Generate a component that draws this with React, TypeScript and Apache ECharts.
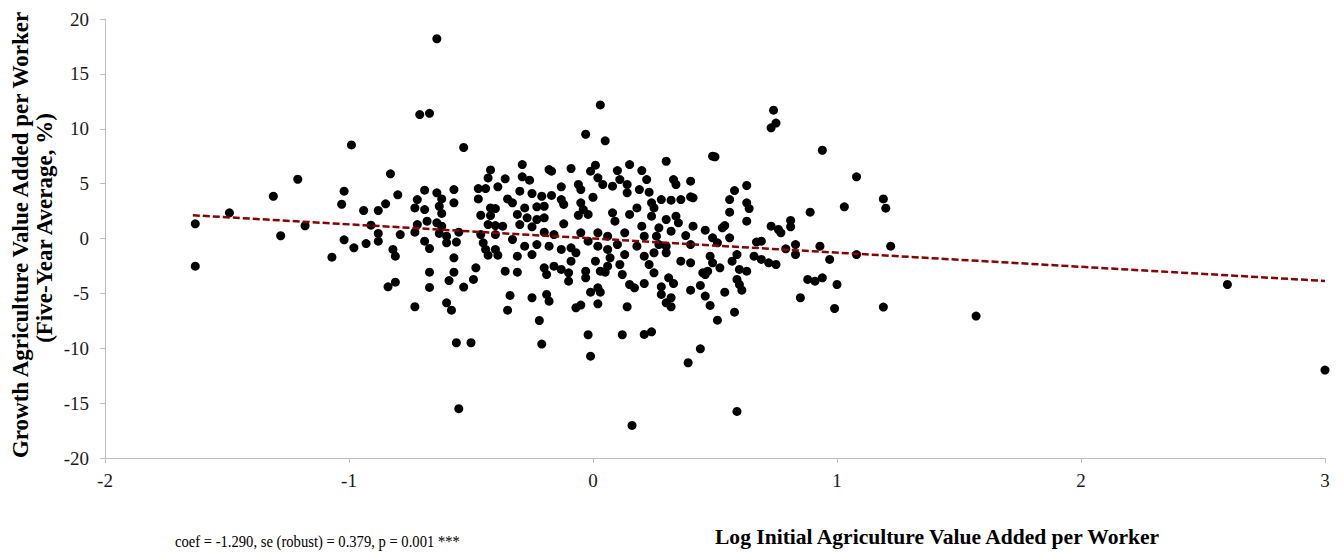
import { useEffect, useRef } from "react";
import * as echarts from "echarts";

// Log initial agriculture value added per worker (x) and five-year average growth (y)
const logInitialVA: number[] = [
  -1.63, -1.63, -1.49, -1.31, -1.28, -1.21, -1.18, -0.99, -1.02, -1.03, -1.02, -0.98, -1.07,
  -0.64,
  -0.71, -0.67, -0.53, -0.83, -0.42, -0.43, -0.8, -0.85, -0.88, -0.94, -0.69, -0.72, -0.73, -0.69,
  -0.64, -0.62, -0.63, -0.62, -0.57, -0.57, -0.68, -0.72, -0.64, -0.62, -0.91, -0.88, -0.88, -0.93,
  -0.79, -0.73, -0.63, -0.6, -0.6, -0.55, -0.56, -0.69, -0.67, -0.82, -0.81, -0.57, -0.67, -0.57,
  -0.49, -0.48, -0.47, -0.44, -0.47, -0.39, -0.46, -0.42, -0.4, -0.42, -0.43, -0.4, -0.46, -0.45,
  -0.44, -0.43, -0.4, -0.39, -0.4,
  -0.81, -0.84, -0.67, -0.59, -0.53, -0.73, -0.6, -0.58, -0.56, -0.5, -0.55,
  0.03, -0.03, 0.05, -0.29, -0.18, -0.17, -0.09, 0.01, -0.01, 0.15, 0.1, -0.36, -0.29, -0.26,
  -0.13, -0.06, -0.05, 0.02, 0.04, 0.08, 0.11, 0.14, 0.14, 0.19, -0.3, -0.25, -0.35, -0.33,
  -0.21, -0.17, -0.13, -0.12, -0.05, -0.04, 0.0, -0.02, -0.06, -0.28, -0.23, -0.2, -0.31, -0.27,
  -0.2, -0.23, -0.37, -0.3, -0.25, -0.12, 0.08, 0.09, 0.15, 0.18, 0.13, 0.06, 0.02, -0.05,
  -0.2, -0.16, -0.33, -0.28, -0.23, -0.18, -0.13, -0.09, -0.07, -0.02, 0.02, 0.06, 0.1, 0.13,
  0.18, -0.31, -0.25, -0.09, 0.01, 0.07, -0.2, -0.16, -0.13, -0.1, -0.36, -0.31, -0.03, 0.03,
  0.06, 0.11, 0.12,
  -0.19, -0.1, -0.03, 0.05, 0.15, 0.17, -0.34, -0.25, -0.19, -0.18, -0.35, -0.22, -0.07, -0.05,
  -0.01, 0.02, 0.03, 0.02, 0.14, -0.02, 0.12, -0.21, -0.01, 0.16,
  0.74, 0.73, 0.75, 0.3, 0.49, 0.5, 0.2, 0.22, 0.33, 0.34, 0.4, 0.23, 0.58, 0.63, 0.56, 0.63,
  0.64, 0.56, 0.63, 0.24, 0.28, 0.32, 0.36, 0.4, 0.41, 0.25, 0.24, 0.3, 0.34, 0.35, 0.2, 0.27,
  0.32, 0.41, 0.46, 0.53, 0.54, 0.73, 0.76, 0.21, 0.26, 0.38, 0.49, 0.56, 0.51, 0.67, 0.69, 0.27,
  0.3, 0.4, 0.21, 0.25, 0.3, 0.36, 0.4, 0.48, 0.49, 0.47, 0.57, 0.59, 0.52, 0.6, 0.63, 0.66,
  0.69, 0.72, 0.75, 0.23, 0.25, 0.45, 0.31,
  0.21, 0.28, 0.28, 0.33, 0.3, 0.32, 0.32, 0.4, 0.44, 0.46, 0.46, 0.48, 0.51, 0.54, 0.58, 0.59,
  0.6, 0.61, 0.21, 0.24, 0.44, 0.39, 0.59,
  0.94, 1.08, 1.19, 1.2, 1.03, 0.89, 0.81, 0.81, 0.77, 0.79, 0.83, 0.83, 0.93, 0.97, 1.08, 1.22,
  0.88, 0.91, 0.94, 1.0, 0.85, 0.99, 1.19,
  1.57, 2.6, 3.0,
];

const growthVA: number[] = [
  1.34, -2.52, 2.34, 3.85, 0.25, 5.4, 1.16, 8.53, 4.31, 3.12, -0.12, -0.85, -1.7,
  18.2,
  11.29, 11.41, 8.29, 5.89, 6.25, 5.52, 3.98, 3.16, 2.55, 2.55, 4.4, 3.55, 2.79, 2.64,
  4.16, 3.61, 2.94, 2.28, 4.46, 3.25, 1.58, 1.27, 1.43, 1.12, 1.21, 0.46, -0.24, -0.46,
  0.36, 0.58, 0.46, 0.21, -0.39, 0.58, -0.33, -0.24, -0.91, -1.0, -1.61, -1.76, -3.07, -3.07,
  -3.73, -2.67, 4.55, 4.55, 3.61, 4.71, 2.12, 2.79, 2.73, 2.09, 1.27, 1.18, 0.36, -0.39,
  -1.0, -1.52, -1.0, -1.52, 0.36,
  -3.98, -4.4, -4.46, -3.83, -4.43, -6.22, -5.86, -6.53, -9.5, -9.5, -15.51,
  12.17, 9.5, 8.9, 6.74, 6.28, 6.13, 6.38, 6.68, 6.13, 6.74, 6.19, 5.44, 5.62, 5.31,
  4.71, 4.92, 4.46, 5.53, 4.92, 4.77, 5.37, 4.92, 4.16, 4.46, 4.31, 4.1, 3.61, 3.25,
  3.85, 3.92, 3.55, 3.1, 3.25, 2.64, 3.76, 2.19, 2.12, 2.79, 2.89, 2.94, 2.19, 1.88,
  1.88, 1.73, 1.12, 1.27, 1.06, 1.34, 2.34, 1.58, 2.19, 2.79, 0.52, 0.21, 0.52, 0.52,
  0.58, 0.36, -0.09, -0.7, -0.55, -0.7, -1.0, -0.85, -1.3, -0.24, -0.7, -1.0, -0.55, -1.46,
  -0.7, -1.61, -1.46, -2.07, -2.07, -1.76, -2.67, -2.52, -2.82, -3.13, -2.98, -3.07, -2.98, -2.98,
  -2.52, -2.37, -3.28,
  -3.28, -3.89, -3.58, -3.07, -4.19, -4.49, -5.19, -5.4, -5.1, -5.71, -6.53, -7.47, -6.31, -6.07,
  -4.89, -4.49, -4.89, -5.95, -6.22, -8.77, -8.77, -9.62, -10.72, -17.03,
  11.69, 10.08, 10.52, 7.04, 7.5, 7.44, 6.19, 5.37, 5.37, 4.92, 5.22, 4.22, 4.37, 4.83, 3.55, 3.25,
  2.73, 2.4, 1.58, 3.25, 3.55, 3.49, 3.55, 3.8, 3.71, 2.79, 2.03, 1.73, 2.03, 1.43, 1.12, 0.97,
  0.67, 1.12, 0.76, 0.97, 1.18, 1.12, 0.82, 0.21, 0.21, 0.27, 0.06, 0.06, -0.39, -0.33, -0.24, -0.55,
  -0.7, -0.55, -1.61, -1.3, -1.3, -2.07, -2.22, -1.61, -2.22, -2.98, -2.07, -1.46, -2.67, -2.82, -2.98, -1.61,
  -1.91, -2.22, -2.37, -2.37, -3.13, -3.13, -3.58,
  -4.1, -4.4, -5.1, -4.1, -5.86, -6.22, -5.4, -4.71, -4.28, -3.28, -5.25, -6.1, -7.44, -4.89, -6.71, -3.73,
  -4.19, -4.71, -8.74, -8.5, -10.05, -11.32, -15.76,
  8.04, 5.62, 3.61, 2.76, 2.89, 2.4, 1.64, 1.06, 0.52, -0.94, -0.55, -1.46, -0.7, -1.91, -1.46, -0.7,
  -3.73, -3.89, -3.58, -4.19, -5.4, -6.38, -6.25,
  -7.07, -4.19, -11.99,
];

// Fitted regression line
const fitCoef = -1.29;
const fitIntercept = 0;
const fitXRange = [-1.64, 3.0];

const xAxisRange = { min: -2, max: 3, step: 1 };
const yAxisRange = { min: -20, max: 20, step: 5 };

const yTitleLines = [
  "Growth Agriculture Value Added per Worker",
  "(Five-Year Average, %)",
];
const xTitle = "Log Initial Agriculture Value Added per Worker";
const statsNote = "coef = -1.290, se (robust) = 0.379, p = 0.001 ***";

const SERIF = "Liberation Serif";

export default function App() {
  const ref = useRef<HTMLDivElement>(null);

  useEffect(() => {
    if (!ref.current) return;
    const chart = echarts.init(ref.current, undefined, { renderer: "svg" });

    const points = logInitialVA.map((x, i) => [x, growthVA[i]]);
    const fitLine = fitXRange.map((x) => [x, fitIntercept + fitCoef * x]);

    const axisLineStyle = { color: "#bfbfbf", width: 1 };
    const tickStyle = { color: "#bfbfbf", width: 1 };

    chart.setOption({
      animation: false,
      backgroundColor: "#ffffff",
      textStyle: { fontFamily: SERIF },
      grid: { left: 105, right: 18, top: 19, bottom: 102, containLabel: false },
      xAxis: {
        type: "value",
        min: xAxisRange.min,
        max: xAxisRange.max,
        interval: xAxisRange.step,
        axisLine: { show: true, onZero: false, lineStyle: axisLineStyle },
        axisTick: { show: true, inside: false, length: 5, lineStyle: tickStyle },
        splitLine: { show: false },
        axisLabel: { margin: 13, color: "#1a1a1a", fontSize: 19, fontFamily: SERIF },
      },
      yAxis: {
        type: "value",
        min: yAxisRange.min,
        max: yAxisRange.max,
        interval: yAxisRange.step,
        axisLine: { show: true, onZero: false, lineStyle: axisLineStyle },
        axisTick: { show: true, inside: false, length: 5, lineStyle: tickStyle },
        splitLine: { show: false },
        axisLabel: { margin: 16, color: "#1a1a1a", fontSize: 19, fontFamily: SERIF },
      },
      series: [
        {
          type: "scatter",
          data: points,
          symbol: "circle",
          symbolSize: 9,
          itemStyle: { color: "#000000", opacity: 1 },
          z: 2,
        },
        {
          type: "line",
          data: fitLine,
          symbol: "none",
          lineStyle: { color: "#8b0000", width: 2.5, type: [7, 3] },
          z: 3,
        },
      ],
      graphic: [
        {
          type: "text",
          x: 20,
          y: 235,
          rotation: Math.PI / 2,
          style: {
            text: yTitleLines[0],
            fontFamily: SERIF,
            fontSize: 23,
            fontWeight: "bold",
            fill: "#000",
            align: "center",
            verticalAlign: "middle",
            textAlign: "center",
            textVerticalAlign: "middle",
          },
        },
        {
          type: "text",
          x: 44,
          y: 228,
          rotation: Math.PI / 2,
          style: {
            text: yTitleLines[1],
            fontFamily: SERIF,
            fontSize: 23,
            fontWeight: "bold",
            fill: "#000",
            align: "center",
            verticalAlign: "middle",
            textAlign: "center",
            textVerticalAlign: "middle",
          },
        },
        {
          type: "text",
          x: 715,
          y: 537,
          scaleX: 0.98,
          style: {
            text: xTitle,
            fontFamily: SERIF,
            fontSize: 22,
            fontWeight: "bold",
            fill: "#000",
            align: "left",
            verticalAlign: "middle",
            textAlign: "left",
            textVerticalAlign: "middle",
          },
        },
        {
          type: "text",
          x: 175,
          y: 541,
          scaleX: 0.86,
          style: {
            text: statsNote,
            fontFamily: SERIF,
            fontSize: 17,
            fill: "#000",
            align: "left",
            verticalAlign: "middle",
            textAlign: "left",
            textVerticalAlign: "middle",
          },
        },
      ],
    });

    return () => chart.dispose();
  }, []);

  return (
    <div
      ref={ref}
      style={{ position: "absolute", left: 0, top: 0, width: 1343, height: 560 }}
    />
  );
}
